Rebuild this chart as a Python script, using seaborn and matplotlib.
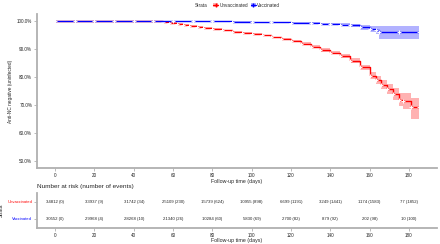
import numpy as np
import pandas as pd
import matplotlib
matplotlib.use("Agg")
import matplotlib.pyplot as plt
import seaborn as sns
from matplotlib.patches import Patch
from matplotlib.lines import Line2D
from matplotlib.offsetbox import HPacker

# --- Data ---
unvax_time = [0, 10, 20, 30, 40, 50, 55, 58, 62, 65, 68, 72, 75, 80, 85, 90, 95, 100, 105, 110,
              115, 120, 125, 130, 135, 140, 145, 150, 155, 160, 163, 166, 169, 172, 175, 177, 181, 185]
unvax_surv = [100, 100, 100, 100, 100, 100, 99.8, 99.5, 99.1, 98.8, 98.4, 98.0, 97.7, 97.2, 96.7, 96.2,
              95.9, 95.5, 94.9, 94.2, 93.6, 92.8, 91.9, 90.9, 89.7, 88.8, 87.5, 85.8, 83.5, 80.5,
              78.9, 77.3, 75.6, 74.0, 72.0, 71.4, 69.5, 69.4]
unvax_lo = [100, 100, 100, 100, 100, 100, 99.7, 99.4, 99.0, 98.7, 98.3, 97.9, 97.5, 97.0, 96.5, 96.0,
            95.6, 95.2, 94.6, 93.9, 93.2, 92.4, 91.4, 90.4, 89.1, 88.1, 86.7, 84.9, 82.5, 79.3,
            77.5, 75.7, 73.8, 72.0, 69.6, 68.6, 65.0, 64.3]
unvax_hi = [100, 100, 100, 100, 100, 100, 99.9, 99.6, 99.2, 98.9, 98.5, 98.1, 97.9, 97.4, 96.9, 96.4,
            96.2, 95.8, 95.2, 94.5, 94.0, 93.2, 92.4, 91.4, 90.3, 89.5, 88.3, 86.7, 84.5, 81.7,
            80.3, 78.9, 77.4, 76.0, 74.4, 74.2, 72.6, 72.5]

vax_time = [0, 10, 20, 30, 40, 50, 60, 70, 80, 90, 100, 110, 120, 130, 135, 140, 145, 150, 155,
            160, 163, 165, 175, 185]
vax_surv = [100, 100, 100, 100, 100, 100, 99.98, 99.95, 99.9, 99.8, 99.7, 99.6, 99.5, 99.3, 99.1,
            98.9, 98.7, 98.5, 97.8, 97.2, 96.8, 96.0, 96.0, 96.0]
vax_lo = [100, 100, 100, 100, 100, 100, 99.9, 99.85, 99.8, 99.7, 99.55, 99.4, 99.25, 99.0, 98.75,
          98.5, 98.2, 97.9, 97.0, 96.2, 95.5, 93.8, 93.8, 93.8]
vax_hi = [100, 100, 100, 100, 100, 100, 100, 100, 100, 99.9, 99.85, 99.8, 99.75, 99.6, 99.45,
          99.3, 99.2, 99.1, 98.6, 98.2, 98.1, 98.2, 98.2, 98.2]

risk_times = [0, 20, 40, 60, 80, 100, 120, 140, 160, 180]
unvax_risk = ["34812 (0)", "33937 (9)", "31742 (34)", "25109 (230)", "15739 (624)",
              "10955 (898)", "6699 (1191)", "3249 (1441)", "1174 (1583)", "77 (1852)"]
vax_risk = ["30552 (0)", "29968 (4)", "28268 (10)", "21340 (26)", "10284 (60)",
            "5830 (69)", "2700 (82)", "879 (92)", "202 (98)", "10 (100)"]

strata = ["Unvaccinated", "Vaccinated"]
colors = {"Unvaccinated": "#FF0000", "Vaccinated": "#0000FF"}

df = pd.concat([
    pd.DataFrame({"time": unvax_time, "surv": unvax_surv, "lo": unvax_lo, "hi": unvax_hi,
                  "strata": "Unvaccinated"}),
    pd.DataFrame({"time": vax_time, "surv": vax_surv, "lo": vax_lo, "hi": vax_hi,
                  "strata": "Vaccinated"}),
], ignore_index=True)
for c in ["surv", "lo", "hi"]:
    df[c] = df[c] / 100

sns.set_theme(style="white")
plt.rcParams["font.family"] = ["Liberation Sans", "DejaVu Sans"]
axis_grey = "#b0b0b0"
tick_fs = 3.3

fig = plt.figure(figsize=(4.4, 2.44), dpi=100)
ax = fig.add_axes([0.084, 0.311, 0.909, 0.631])
ax_t = fig.add_axes([0.084, 0.066, 0.909, 0.145])

# --- Survival curves ---
for s in strata:
    d = df[df["strata"] == s]
    ax.fill_between(d["time"], d["lo"], d["hi"], step="post", color=colors[s], alpha=0.3, lw=0)
sns.lineplot(data=df, x="time", y="surv", hue="strata", palette=colors, estimator=None,
             drawstyle="steps-post", marker="+", markersize=3, markeredgewidth=0.7,
             linewidth=1.0, legend=False, ax=ax)

ax.set_xlim(-9.25, 194.25)
ax.set_ylim(0.475, 1.025)
ax.set_xticks(risk_times)
ax.set_yticks([0.5, 0.6, 0.7, 0.8, 0.9, 1.0])
ax.yaxis.set_major_formatter(plt.FuncFormatter(lambda v, p: f"{v * 100:.1f}%"))
ax.set_xlabel("Follow-up time (days)", fontsize=3.8, labelpad=1)
ax.set_ylabel("Anti-NC negative (uninfected)", fontsize=3.4, labelpad=3)

# --- Risk table ---
for row, (s, labels) in enumerate(zip(strata, [unvax_risk, vax_risk])):
    for t, lab in zip(risk_times, labels):
        ax_t.text(t, row + 1, lab, ha="center", va="center", fontsize=3.1, color="#222222")
ax_t.set_xlim(-9.25, 194.25)
ax_t.set_ylim(2.55, 0.45)
ax_t.set_xticks(risk_times)
ax_t.set_yticks([1, 2])
ax_t.set_yticklabels(strata)
for lab, s in zip(ax_t.get_yticklabels(), strata):
    lab.set_color(colors[s])
ax_t.set_xlabel("Follow-up time (days)", fontsize=3.8, labelpad=0.5)
ax_t.set_ylabel("Strata", fontsize=3.6)
ax_t.yaxis.set_label_coords(-0.083, 0.5)
fig.text(0.084, 0.234, "Number at risk (number of events)", fontsize=4.6, ha="left", va="center")

for a in (ax, ax_t):
    sns.despine(ax=a)
    for sp in ("left", "bottom"):
        a.spines[sp].set_color(axis_grey)
        a.spines[sp].set_linewidth(1.3)
    a.tick_params(axis="both", which="both", length=2, width=0.6, color=axis_grey,
                  labelsize=tick_fs, pad=1.5, left=True, bottom=True)
ax_t.tick_params(axis="y", labelsize=3.0)

# --- Legend ---
handles = [(Patch(facecolor=colors[s], alpha=0.3, lw=0),
            Line2D([], [], color=colors[s], marker="+", markersize=3, lw=0.9)) for s in strata]
leg = fig.legend(handles, strata, loc="center", bbox_to_anchor=(0.54, 0.978), ncol=2,
                 frameon=False, fontsize=3.3, handlelength=1.1, handleheight=0.9,
                 columnspacing=0.6, handletextpad=0.3, borderpad=0,
                 title="Strata", title_fontsize=3.3)
# put the title inline with the entries
box = leg._legend_box
box._children = [HPacker(children=box._children, align="center", pad=0, sep=4)]

fig.savefig("out.png", dpi=100)
